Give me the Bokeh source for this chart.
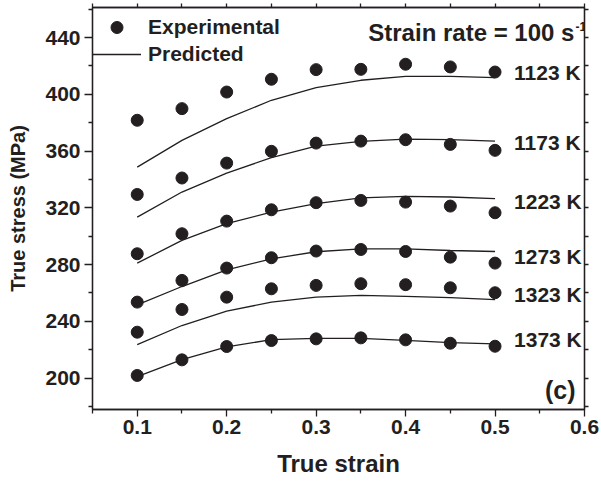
from bokeh.plotting import figure
from bokeh.models import Range1d, FixedTicker, LinearAxis, Legend, LegendItem, Label
from bokeh.embed import file_html
from bokeh.resources import INLINE

# ---------------- data ----------------
strain = [0.10, 0.15, 0.20, 0.25, 0.30, 0.35, 0.40, 0.45, 0.50]
temp_labels = ["1123 K", "1173 K", "1223 K", "1273 K", "1323 K", "1373 K"]
temp_label_y = [415.7, 366.3, 324.7, 286.0, 258.7, 227.0]

exp_1123 = [381.7, 389.9, 401.6, 410.6, 417.4, 417.6, 421.2, 419.3, 415.7]
pred_1123 = [348.7, 367.5, 382.8, 395.8, 404.7, 409.9, 412.7, 412.7, 411.8]
exp_1173 = [329.4, 341.0, 351.5, 359.8, 365.6, 367.0, 368.0, 364.7, 360.5]
pred_1173 = [313.4, 331.1, 344.5, 355.3, 363.5, 366.8, 368.4, 368.0, 367.0]
exp_1223 = [287.6, 301.7, 310.6, 318.6, 323.6, 325.2, 324.0, 321.2, 316.5]
pred_1223 = [281.0, 297.0, 308.8, 317.0, 322.9, 327.0, 328.0, 327.6, 326.4]
exp_1273 = [253.5, 268.8, 277.5, 284.8, 289.5, 290.6, 289.2, 285.2, 281.0]
pred_1273 = [251.6, 264.5, 276.3, 284.0, 289.0, 291.1, 291.1, 289.9, 289.2]
exp_1323 = [232.3, 248.3, 257.0, 262.9, 265.3, 266.5, 265.8, 263.6, 260.1]
pred_1323 = [223.6, 237.0, 247.1, 253.5, 257.0, 258.2, 257.5, 256.6, 255.2]
exp_1373 = [201.8, 212.8, 222.2, 226.4, 227.6, 228.3, 226.9, 224.5, 222.4]
pred_1373 = [201.0, 213.0, 222.0, 227.0, 228.0, 228.0, 226.5, 225.0, 224.0]

experimental = [exp_1123, exp_1173, exp_1223, exp_1273, exp_1323, exp_1373]
predicted = [pred_1123, pred_1173, pred_1223, pred_1273, pred_1323, pred_1373]

x_major = [0.1, 0.2, 0.3, 0.4, 0.5, 0.6]
x_minor = [0.05, 0.15, 0.25, 0.35, 0.45, 0.55]
y_major = [200, 240, 280, 320, 360, 400, 440]
y_minor = [180, 220, 260, 300, 340, 380, 420, 460]

# ---------------- style ----------------
INK = "#231f20"
FONT = "Liberation Sans"

p = figure(width=601, height=484, x_range=Range1d(0.05, 0.6), y_range=Range1d(177.8, 461.2),
           output_backend="svg", toolbar_location=None,
           min_border_left=92, min_border_right=17, min_border_top=7, min_border_bottom=75)
p.xgrid.visible = False
p.ygrid.visible = False
p.outline_line_color = INK
p.outline_line_width = 1.3
p.background_fill_color = "white"
p.border_fill_color = "white"


def style_axis(ax, tick_out, minor_out):
    ax.axis_line_color = INK
    ax.axis_line_width = 1.3
    ax.major_tick_line_color = INK
    ax.minor_tick_line_color = INK
    ax.major_tick_line_width = 1.3
    ax.minor_tick_line_width = 1.3
    ax.major_tick_in = 0
    ax.minor_tick_in = 0
    ax.major_tick_out = tick_out
    ax.minor_tick_out = minor_out
    ax.major_label_text_font = FONT
    ax.major_label_text_font_style = "bold"
    ax.major_label_text_font_size = "21px"
    ax.major_label_text_color = INK
    ax.axis_label_text_font = FONT
    ax.axis_label_text_font_style = "bold"
    ax.axis_label_text_color = INK


xa = p.xaxis[0]
xa.ticker = FixedTicker(ticks=x_major, minor_ticks=x_minor)
style_axis(xa, 7, 4)
xa.major_label_standoff = 3
xa.axis_label = "True strain"
xa.axis_label_text_font_size = "24px"
xa.axis_label_standoff = 13

ya = p.yaxis[0]
ya.ticker = FixedTicker(ticks=y_major, minor_ticks=y_minor)
style_axis(ya, 8, 4)
ya.major_label_standoff = 4
ya.axis_label = "True stress (MPa)"
ya.axis_label_text_font_size = "20px"
ya.axis_label_standoff = 13

# mirrored top / right axes: ticks only (all as minor ticks, so no labels)
top_ax = LinearAxis(ticker=FixedTicker(ticks=[], minor_ticks=sorted(x_major + x_minor)))
style_axis(top_ax, 4, 4)
top_ax.major_label_standoff = 0
p.add_layout(top_ax, "above")
right_ax = LinearAxis(ticker=FixedTicker(ticks=[], minor_ticks=sorted(y_major + y_minor)))
style_axis(right_ax, 4, 4)
right_ax.major_label_standoff = 0
p.add_layout(right_ax, "right")

scatter_r = []
line_r = []
for ev, pv in zip(experimental, predicted):
    line_r.append(p.line(strain, pv, line_color=INK, line_width=1.3))
    scatter_r.append(p.scatter(strain, ev, size=12, fill_color=INK, line_color=INK))

for t, ty in zip(temp_labels, temp_label_y):
    p.add_layout(Label(x=0.5, y=ty, x_offset=19, text=t, text_baseline="middle", text_align="left",
                       text_font=FONT, text_font_style="bold", text_font_size="21px", text_color=INK))

p.add_layout(Label(x=0.5887, y=443.7, text="Strain rate = 100 s", text_align="right",
                   text_baseline="middle", text_font=FONT, text_font_style="bold",
                   text_font_size="24px", text_color=INK))
p.add_layout(Label(x=0.5887, y=447.5, x_offset=1, text="-1", text_align="left",
                   text_baseline="middle", text_font=FONT, text_font_style="bold",
                   text_font_size="12px", text_color=INK))
p.add_layout(Label(x=0.59, y=191.2, text="(c)", text_align="right", text_baseline="middle",
                   text_font=FONT, text_font_style="bold", text_font_size="25px", text_color=INK))

legend_style = dict(glyph_width=49, label_height=20, padding=2, margin=0, label_standoff=7,
                    border_line_color=None, background_fill_alpha=0,
                    label_text_font=FONT, label_text_font_style="bold",
                    label_text_font_size="21px", label_text_color=INK)
legend_exp = Legend(items=[LegendItem(label="Experimental", renderers=[scatter_r[0]])],
                    location=(0, 367), glyph_height=30, **legend_style)
legend_pred = Legend(items=[LegendItem(label="Predicted", renderers=[line_r[0]])],
                     location=(0, 343), glyph_height=20, **legend_style)
p.add_layout(legend_exp)
p.add_layout(legend_pred)

open("out.html", "w").write(file_html(p, INLINE))
